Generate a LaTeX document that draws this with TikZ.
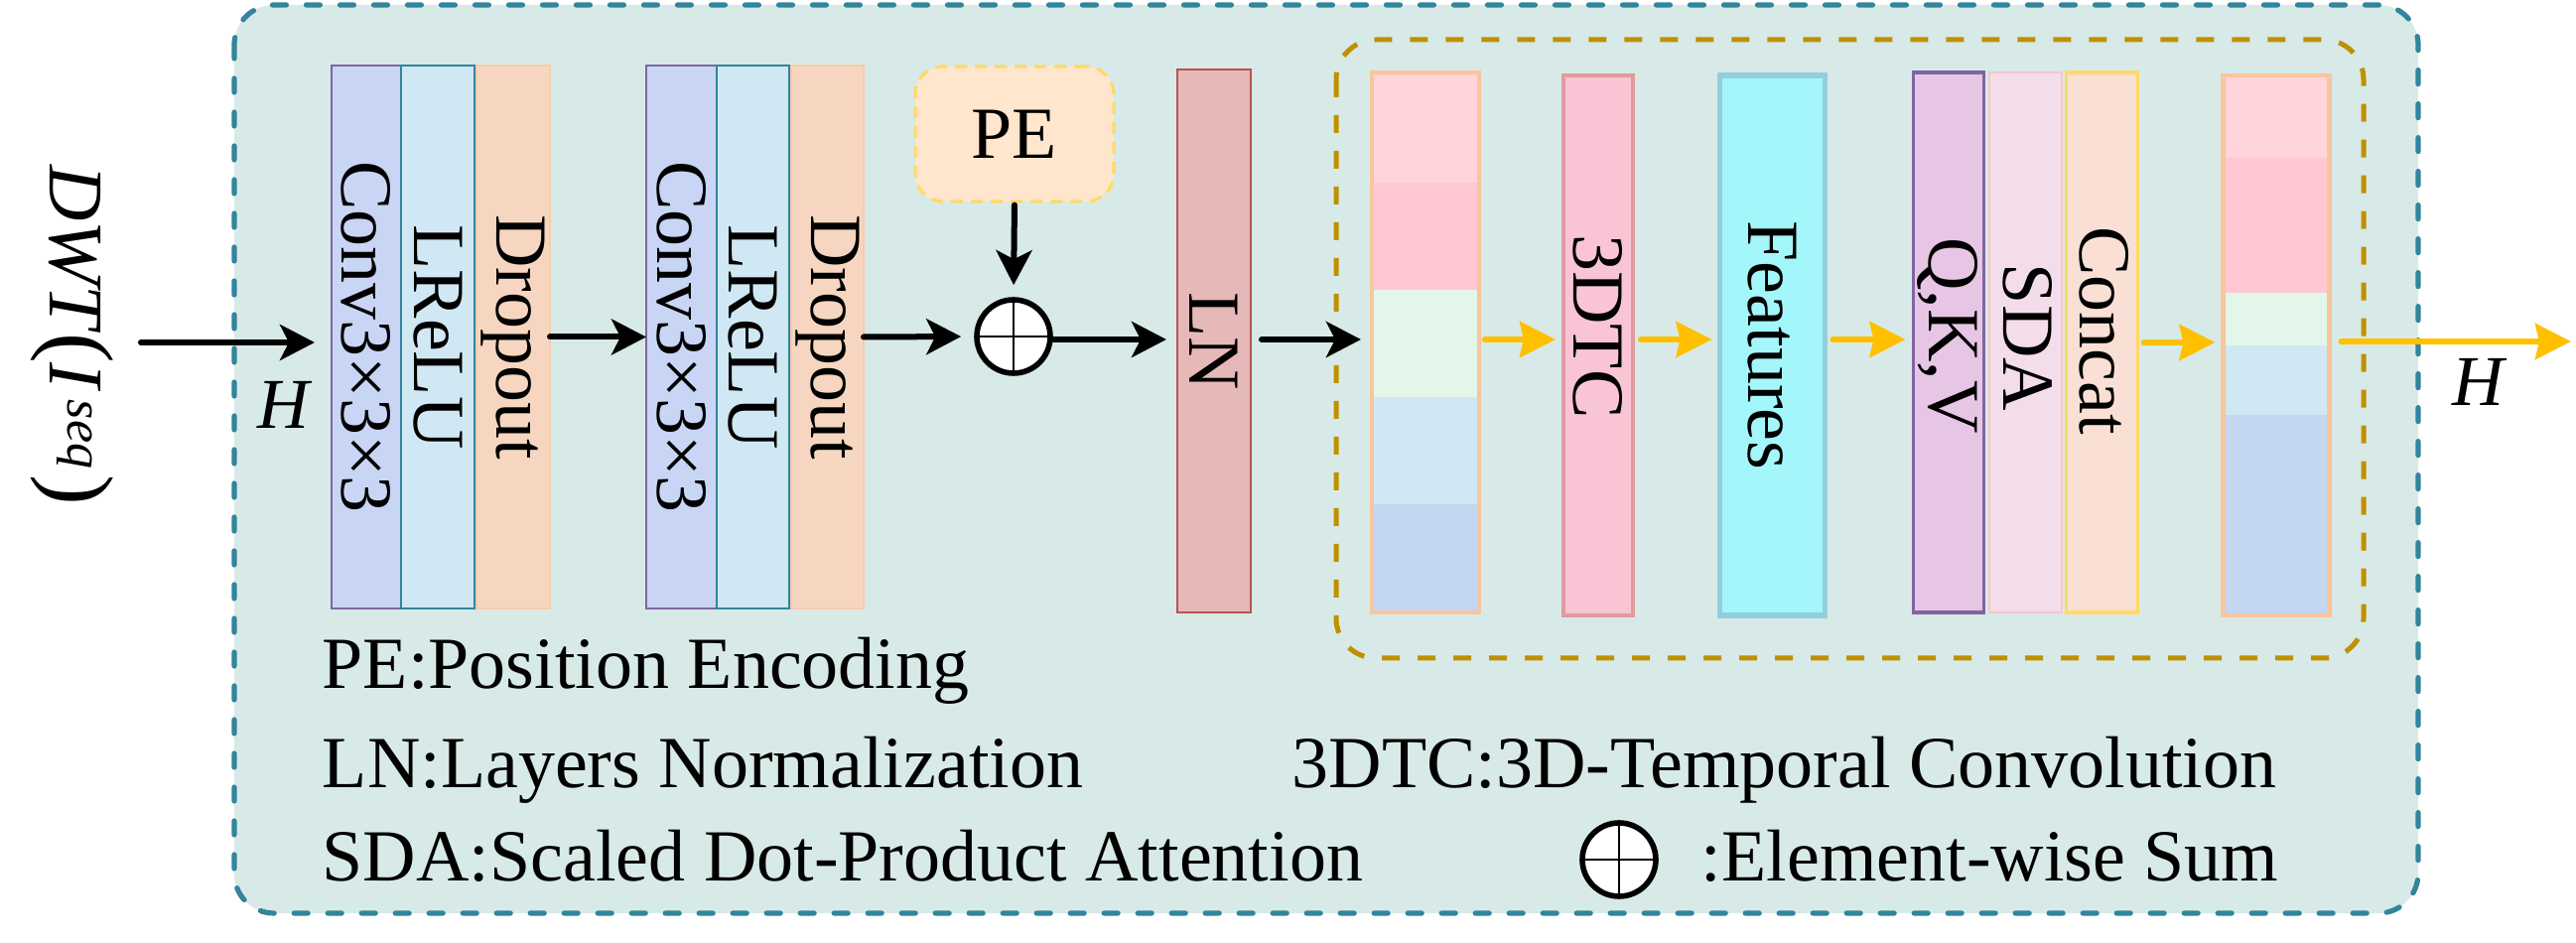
\documentclass[tikz,border=0pt]{standalone}
\usepackage{fontspec}
\setmainfont{Liberation Serif}
\usetikzlibrary{arrows.meta}
\definecolor{outerfill}{RGB}{216,234,231}
\definecolor{outerline}{RGB}{49,133,156}
\definecolor{innerline}{RGB}{191,144,0}
\definecolor{convfill}{RGB}{201,213,244}
\definecolor{convline}{RGB}{128,100,162}
\definecolor{relufill}{RGB}{208,232,243}
\definecolor{reluline}{RGB}{49,133,156}
\definecolor{dropfill}{RGB}{246,214,192}
\definecolor{dropline}{RGB}{248,203,173}
\definecolor{pefill}{RGB}{255,230,204}
\definecolor{peline}{RGB}{255,217,102}
\definecolor{lnfill}{RGB}{230,184,183}
\definecolor{lnline}{RGB}{184,84,80}
\definecolor{barline}{RGB}{248,197,157}
\definecolor{segA}{RGB}{255,212,218}
\definecolor{segB}{RGB}{255,199,209}
\definecolor{segC}{RGB}{226,247,234}
\definecolor{segD}{RGB}{208,232,243}
\definecolor{segE}{RGB}{195,215,241}
\definecolor{tdtcfill}{RGB}{249,196,211}
\definecolor{tdtcline}{RGB}{224,155,160}
\definecolor{featfill}{RGB}{163,246,249}
\definecolor{featline}{RGB}{147,206,221}
\definecolor{qkvfill}{RGB}{230,198,228}
\definecolor{qkvline}{RGB}{128,100,162}
\definecolor{sdafill}{RGB}{244,221,235}
\definecolor{sdaline}{RGB}{244,199,204}
\definecolor{catfill}{RGB}{249,223,212}
\definecolor{catline}{RGB}{255,217,102}
\definecolor{arrowyellow}{RGB}{255,192,0}
\tikzset{
  fnt/.style={font=\fontsize{18.5}{22}\selectfont},
  layer/.style={rectangle, inner sep=0pt, outer sep=0pt, minimum height=136.75pt},
  thinlayer/.style={layer, line width=0.5pt},
  thicklayer/.style={layer, line width=1.1pt, minimum height=136pt},
  vtext/.style={fnt, rotate=-90, inner sep=0pt},
  legend/.style={fnt, anchor=base west, inner sep=0pt},
  blk/.style={-{Stealth[length=8.75pt,width=9pt,inset=2.25pt]}, line width=1.5pt, line cap=round, black},
  yel/.style={-{Stealth[length=9pt,width=9pt,inset=1pt]}, line width=1.5pt, line cap=round, arrowyellow},
  sumc/.style={circle, draw=black, fill=white, line width=1.4pt, minimum size=18.5pt, inner sep=0pt},
  hlabel/.style={font=\fontsize{18}{22}\selectfont\itshape, inner sep=0pt},
}
\begin{document}
\begin{tikzpicture}[x=0.25pt, y=-0.25pt]
\useasboundingbox (0,0) rectangle (2595,950);
% containers
\draw[outerline, fill=outerfill, line width=1.3pt, dash pattern=on 3.5pt off 5pt, line cap=round, rounded corners=10pt] (236,5) rectangle (2436,920);
\draw[innerline, line width=1.25pt, dash pattern=on 4.5pt off 4.5pt, rounded corners=10pt] (1346,40) rectangle (2381,663);

% input label
\node[font=\fontsize{19.5}{24}\selectfont, rotate=-90, inner sep=0pt] (dwt) at (73,337.5) {\textit{DWT}{\fontsize{23}{23}\selectfont(}\textit{I}\kern2pt\raisebox{4.5pt}{\fontsize{13}{13}\selectfont\textit{seq}}\kern1.5pt{\fontsize{23}{23}\selectfont)}};
\coordinate (inp) at (142,345);
\node[hlabel] (hin) at (285,408) {H};

% first block
\node[thinlayer, minimum width=17.5pt, fill=convfill, draw=convline] (c1) at (369,339.5) {};
\node[thinlayer, minimum width=18.5pt, fill=relufill, draw=reluline] (r1) at (441,339.5) {};
\node[thinlayer, minimum width=18.5pt, fill=dropfill, draw=dropline] (d1) at (517,339.5) {};
\node[vtext] (c1t) at (c1) {Conv3×3×3};
\node[vtext] (r1t) at (r1) {LReLU};
\node[vtext] (d1t) at (d1) {Dropout};

% second block
\node[thinlayer, minimum width=17.75pt, fill=convfill, draw=convline] (c2) at (686.5,339.5) {};
\node[thinlayer, minimum width=18.25pt, fill=relufill, draw=reluline] (r2) at (758.5,339.5) {};
\node[thinlayer, minimum width=18.25pt, fill=dropfill, draw=dropline] (d2) at (833.5,339.5) {};
\node[vtext] (c2t) at (c2) {Conv3×3×3};
\node[vtext] (r2t) at (r2) {LReLU};
\node[vtext] (d2t) at (d2) {Dropout};

% PE and sum
\node[fnt, rectangle, rounded corners=7pt, fill=pefill, draw=peline, line width=0.8pt, dash pattern=on 3pt off 2pt, minimum width=50pt, minimum height=34pt, inner sep=0pt] (pe) at (1022,135) {PE};
\node[sumc] (sum) at (1021,339) {};
\draw[line width=0.6pt] (sum.north) -- (sum.south) (sum.west) -- (sum.east);

% LN
\node[thinlayer, minimum width=18.5pt, fill=lnfill, draw=lnline] (ln) at (1223,343.5) {};
\node[vtext] (lnt) at (ln) {LN};

% bar 1
\fill[segA] (1383,75) rectangle (1489,184);
\fill[segB] (1383,184) rectangle (1489,292);
\fill[segC] (1383,292) rectangle (1489,400);
\fill[segD] (1383,400) rectangle (1489,508);
\fill[segE] (1383,508) rectangle (1489,616);
\node[thicklayer, minimum width=27pt, draw=barline] (bar1) at (1436,345) {};

% 3DTC, Features
\node[thicklayer, minimum width=17.5pt, fill=tdtcfill, draw=tdtcline] (tdtc) at (1610,348) {};
\node[vtext] (tdtct) at (1610,329) {3DTC};
\node[thicklayer, minimum width=26.5pt, fill=featfill, draw=featline, line width=1.3pt] (feat) at (1785.5,348) {};
\node[vtext] (featt) at (feat) {Features};

% QKV, SDA, Concat
\node[thicklayer, minimum width=17.75pt, fill=qkvfill, draw=qkvline, line width=0.8pt] (qkv) at (1963,345) {};
\node[thicklayer, minimum width=18.25pt, fill=sdafill, draw=sdaline, line width=0.6pt] (sda) at (2040.5,345) {};
\node[thicklayer, minimum width=18pt, fill=catfill, draw=catline, line width=0.8pt] (cat) at (2117.5,345) {};
\node[vtext] (qkvt) at (1962,338) {Q,K,V};
\node[vtext] (sdat) at (2043,340) {SDA};
\node[vtext] (catt) at (2120,333) {Concat};

% bar 2
\fill[segA] (2240,78) rectangle (2346,159);
\fill[segB] (2240,159) rectangle (2346,295);
\fill[segC] (2240,295) rectangle (2346,348);
\fill[segD] (2240,348) rectangle (2346,418);
\fill[segE] (2240,418) rectangle (2346,619);
\node[thicklayer, minimum width=26.75pt, draw=barline] (bar2) at (2293,348) {};
\coordinate (out) at (2590,344);
\node[hlabel] (hout) at (2496,385) {H};

% black connectors
\draw[blk, shorten >=4.25pt] (inp) -- (inp -| c1.west);
\draw[blk] (d1.east) -- (c2.west);
\draw[blk, shorten >=3.25pt] (d2.east) -- (sum.west);
\draw[blk, shorten <=0.5pt, shorten >=3pt] (pe.south) -- (sum.north);
\draw[blk, shorten >=2.75pt] (sum.east |- 0,342) -- (ln.west |- 0,342);
\draw[blk, shorten <=2.75pt, shorten >=2.75pt] (ln.east |- 0,342) -- (bar1.west |- 0,342);

% yellow connectors
\draw[yel, shorten <=1.5pt, shorten >=2pt] (bar1.east |- 0,342) -- (tdtc.west |- 0,342);
\draw[yel, shorten <=2pt, shorten >=2pt] (tdtc.east |- 0,342) -- (feat.west |- 0,342);
\draw[yel, shorten <=2pt, shorten >=2pt] (feat.east |- 0,342) -- (qkv.west |- 0,342);
\draw[yel, shorten <=1.5pt, shorten >=2pt] (cat.east |- 0,345) -- (bar2.west |- 0,345);
\draw[yel, shorten <=3pt] (bar2.east |- out) -- (out);

% legend
\node[legend] (lg1) at (324,694) {PE:Position Encoding};
\node[legend] (lg2) at (324,794) {LN:Layers Normalization};
\node[legend] (lg3) at (324,888) {SDA:Scaled Dot-Product Attention};
\node[legend] (lg4) at (1301,794) {3DTC:3D-Temporal Convolution};
\node[sumc] (lgsum) at (1631,866) {};
\draw[line width=0.6pt] (lgsum.north) -- (lgsum.south) (lgsum.west) -- (lgsum.east);
\node[legend] (lg5) at (1713,888) {:Element-wise Sum};
\end{tikzpicture}
\end{document}
